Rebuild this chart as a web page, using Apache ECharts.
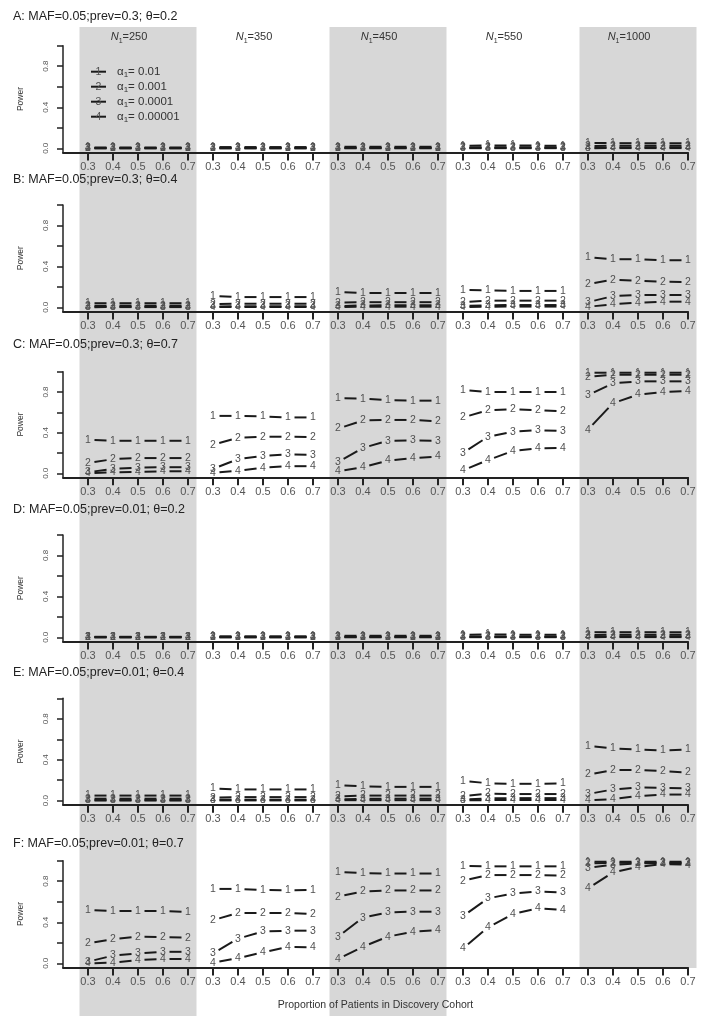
<!DOCTYPE html>
<html><head><meta charset="utf-8">
<script src="https://cdn.jsdelivr.net/npm/echarts@6/dist/echarts.min.js"></script>
<style>html,body{margin:0;padding:0;background:#fff}#c{width:711px;height:1016px}</style>
</head><body><div id="c"></div>
<script>
// ---------- data ----------
const sampleSizes = ['250', '350', '450', '550', '1000'];
const proportions = ['0.3', '0.4', '0.5', '0.6', '0.7'];
const alphaLevels = ['0.01', '0.001', '0.0001', '0.00001'];
const panelTitles = [
  'A: MAF=0.05;prev=0.3; θ=0.2',
  'B: MAF=0.05;prev=0.3; θ=0.4',
  'C: MAF=0.05;prev=0.3; θ=0.7',
  'D: MAF=0.05;prev=0.01; θ=0.2',
  'E: MAF=0.05;prev=0.01; θ=0.4',
  'F: MAF=0.05;prev=0.01; θ=0.7'
];
const yTickValues = [0, 0.2, 0.4, 0.6, 0.8, 1.0];
const yLabelValues = [0, 0.4, 0.8];

// power values: 4 alpha levels x (5 sample sizes x 5 proportions)
const panelA = [
  [0.008,0.008,0.008,0.008,0.008, 0.012,0.012,0.012,0.012,0.012, 0.015,0.015,0.015,0.015,0.015, 0.025,0.028,0.027,0.026,0.025, 0.052,0.05,0.05,0.049,0.048],
  [0.003,0.003,0.003,0.003,0.003, 0.004,0.004,0.004,0.004,0.004, 0.006,0.006,0.006,0.006,0.006, 0.008,0.01,0.01,0.01,0.01, 0.022,0.025,0.025,0.025,0.024],
  [0.001,0.001,0.001,0.001,0.001, 0.001,0.001,0.001,0.001,0.001, 0.002,0.002,0.002,0.002,0.002, 0.002,0.003,0.003,0.003,0.003, 0.006,0.008,0.009,0.009,0.009],
  [0,0,0,0,0, 0,0,0,0,0, 0.001,0.001,0.001,0.001,0.001, 0.001,0.001,0.001,0.001,0.001, 0.001,0.002,0.002,0.002,0.002]
];
const panelB = [
  [0.04,0.04,0.04,0.04,0.04, 0.11,0.10,0.10,0.10,0.10, 0.15,0.14,0.14,0.14,0.14, 0.17,0.165,0.16,0.16,0.16, 0.49,0.47,0.47,0.46,0.46],
  [0.015,0.016,0.016,0.016,0.016, 0.03,0.035,0.035,0.035,0.035, 0.045,0.05,0.05,0.05,0.05, 0.05,0.065,0.065,0.065,0.065, 0.225,0.27,0.26,0.25,0.245],
  [0.004,0.005,0.005,0.005,0.005, 0.008,0.01,0.01,0.01,0.01, 0.012,0.018,0.02,0.02,0.02, 0.012,0.02,0.022,0.022,0.022, 0.05,0.11,0.12,0.12,0.12],
  [0.001,0.002,0.002,0.002,0.002, 0.002,0.003,0.003,0.003,0.003, 0.003,0.005,0.006,0.006,0.006, 0.003,0.006,0.007,0.007,0.007, 0.005,0.03,0.045,0.055,0.055]
];
const panelC = [
  [0.33,0.32,0.32,0.32,0.32, 0.565,0.565,0.56,0.55,0.55, 0.74,0.735,0.72,0.715,0.715, 0.82,0.80,0.80,0.80,0.80, 0.99,0.99,0.99,0.99,0.99],
  [0.10,0.14,0.15,0.15,0.15, 0.28,0.35,0.36,0.36,0.355, 0.44,0.52,0.525,0.525,0.51, 0.55,0.62,0.63,0.62,0.61, 0.95,0.97,0.97,0.97,0.97],
  [0.01,0.045,0.055,0.06,0.06, 0.043,0.14,0.17,0.187,0.18, 0.11,0.25,0.32,0.325,0.32, 0.2,0.36,0.41,0.425,0.415, 0.77,0.885,0.905,0.905,0.905],
  [0.0,0.01,0.015,0.02,0.02, 0.005,0.025,0.055,0.07,0.07, 0.02,0.06,0.125,0.15,0.165, 0.03,0.13,0.22,0.245,0.25, 0.43,0.69,0.775,0.80,0.81]
];
const panelD = [
  [0.005,0.005,0.005,0.005,0.005, 0.01,0.01,0.01,0.01,0.01, 0.015,0.015,0.015,0.015,0.015, 0.025,0.027,0.026,0.025,0.025, 0.05,0.05,0.05,0.05,0.048],
  [0.002,0.002,0.002,0.002,0.002, 0.003,0.003,0.003,0.003,0.003, 0.005,0.005,0.005,0.005,0.005, 0.008,0.008,0.008,0.008,0.008, 0.022,0.025,0.025,0.025,0.025],
  [0.001,0.001,0.001,0.001,0.001, 0.001,0.001,0.001,0.001,0.001, 0.002,0.002,0.002,0.002,0.002, 0.003,0.003,0.003,0.003,0.003, 0.007,0.009,0.009,0.009,0.009],
  [0,0,0,0,0, 0,0,0,0,0, 0.001,0.001,0.001,0.001,0.001, 0.001,0.001,0.001,0.001,0.001, 0.001,0.002,0.002,0.002,0.002]
];
const panelE = [
  [0.05,0.05,0.05,0.05,0.05, 0.12,0.11,0.11,0.11,0.11, 0.15,0.14,0.135,0.135,0.135, 0.195,0.17,0.165,0.165,0.17, 0.535,0.51,0.50,0.49,0.50],
  [0.02,0.02,0.02,0.02,0.02, 0.03,0.035,0.035,0.035,0.035, 0.04,0.05,0.05,0.05,0.05, 0.045,0.07,0.065,0.065,0.065, 0.255,0.30,0.30,0.29,0.275],
  [0.006,0.006,0.006,0.006,0.006, 0.01,0.01,0.01,0.01,0.01, 0.012,0.018,0.02,0.02,0.02, 0.01,0.022,0.025,0.025,0.025, 0.065,0.11,0.13,0.125,0.12],
  [0.002,0.002,0.002,0.002,0.002, 0.003,0.003,0.003,0.003,0.003, 0.005,0.005,0.005,0.005,0.005, 0.004,0.006,0.007,0.007,0.007, 0.003,0.016,0.045,0.06,0.06]
];
const panelF = [
  [0.52,0.51,0.51,0.51,0.50, 0.725,0.725,0.715,0.71,0.715, 0.89,0.88,0.875,0.875,0.875, 0.95,0.945,0.945,0.945,0.945, 0.99,0.99,0.99,0.99,0.99],
  [0.195,0.235,0.26,0.255,0.25, 0.42,0.49,0.49,0.49,0.48, 0.65,0.70,0.71,0.71,0.71, 0.805,0.86,0.86,0.86,0.855, 0.975,0.98,0.98,0.98,0.98],
  [0.016,0.075,0.097,0.112,0.112, 0.097,0.24,0.31,0.318,0.318, 0.26,0.445,0.497,0.503,0.503, 0.46,0.633,0.68,0.70,0.69, 0.93,0.96,0.975,0.975,0.975],
  [0.0,0.006,0.032,0.042,0.042, 0.005,0.05,0.107,0.16,0.156, 0.042,0.162,0.26,0.308,0.325, 0.146,0.35,0.48,0.536,0.52, 0.73,0.886,0.94,0.967,0.96]
];
const panels = [panelA, panelB, panelC, panelD, panelE, panelF];

// ---------- layout ----------
const FONT = '"Liberation Sans", Arial, Helvetica, sans-serif';
const LEFT = 63, UNIT = 25;                 // x: index -1 at LEFT, 25px per step
const NX = sampleSizes.length * proportions.length;
const rowTop = [45.7, 205, 371.7, 535, 698.3, 860.7];   // pixel of power = 1
const rowZero = [148.3, 307.3, 473.3, 637.3, 800.7, 963.3]; // pixel of power = 0
const titleY = [16.7, 179.3, 345, 509.3, 672.7, 843.3];
const BAND_GRAY = '#d7d7d7';
const LINE_COL = '#1a1a1a';
const NUM_COL = '#505050';

const xIdx = [];
sampleSizes.forEach((_, g) => proportions.forEach((_, k) => xIdx.push(g * proportions.length + k)));
const px = idx => LEFT + (idx + 1) * UNIT;

const grids = [], xAxes = [], yAxes = [], series = [];
panels.forEach((panel, r) => {
  const h = rowZero[r] - rowTop[r];
  grids.push({ left: LEFT, top: rowTop[r], width: UNIT * NX, height: h * 1.04 });
  const last = r === panels.length - 1;
  xAxes.push({
    gridIndex: r, type: 'value', min: -1, max: NX - 1, interval: 1,
    axisLine: { show: true, onZero: false, lineStyle: { color: '#222', width: 2 } },
    axisTick: { show: true, customValues: xIdx, length: 8, lineStyle: { color: '#222', width: 2 } },
    axisLabel: { show: true, customValues: xIdx, formatter: v => proportions[((v % 5) + 5) % 5],
      fontSize: 11, color: '#555', margin: 9, fontFamily: FONT },
    splitLine: { show: false },
    name: last ? 'Proportion of Patients in Discovery Cohort' : '',
    nameLocation: 'middle', nameGap: 32,
    nameTextStyle: { fontSize: 10.5, color: '#333', fontFamily: FONT }
  });
  yAxes.push({
    gridIndex: r, type: 'value', min: -0.04, max: 1,
    axisLine: { show: true, onZero: false, lineStyle: { color: '#222', width: 1.5 } },
    axisTick: { show: true, customValues: yTickValues, length: 6, lineStyle: { color: '#222', width: 1.5 } },
    axisLabel: { show: true, customValues: yLabelValues, rotate: 90, formatter: v => v.toFixed(1),
      fontSize: 8, color: '#555', margin: 13, fontFamily: FONT },
    splitLine: { show: false },
    name: 'Power', nameLocation: 'middle', nameGap: 38,
    nameTextStyle: { fontSize: 8.5, color: '#333', fontFamily: FONT }
  });
  panel.forEach((values, a) => {
    series.push({
      type: 'custom', xAxisIndex: r, yAxisIndex: r, z: 5, silent: true, clip: false,
      data: values.map((v, i) => [i, v]),
      encode: { x: 0, y: 1 },
      renderItem: function (params, api) {
        const i = api.value(0), v = api.value(1);
        const p = api.coord([i, v]);
        const children = [{
          type: 'text', z2: 2,
          style: { text: String(a + 1), x: p[0], y: p[1], align: 'center', verticalAlign: 'middle',
            fill: NUM_COL, font: '10.5px ' + FONT }
        }];
        if (i % proportions.length !== proportions.length - 1) {
          const q = api.coord([i + 1, values[i + 1]]);
          const dx = q[0] - p[0], dy = q[1] - p[1], L = Math.hypot(dx, dy), gap = 6.5;
          if (L > 2 * gap) {
            children.push({
              type: 'line', z2: 1,
              shape: { x1: p[0] + dx * gap / L, y1: p[1] + dy * gap / L, x2: q[0] - dx * gap / L, y2: q[1] - dy * gap / L },
              style: { stroke: LINE_COL, lineWidth: 2 }
            });
          }
        }
        return { type: 'group', children };
      }
    });
  });
});

// ---------- graphic decorations ----------
const graphics = [];
// shaded bands for alternate sample sizes
sampleSizes.forEach((s, g) => {
  if (g % 2 !== 0) return;
  const c = px(g * 5 + 2);
  const bottom = g === sampleSizes.length - 1 ? 968 : 1016;
  graphics.push({ type: 'rect', z: -10, silent: true,
    shape: { x: c - 58.5, y: 27, width: 117, height: bottom - 27 }, style: { fill: BAND_GRAY } });
});
// sample-size headers
sampleSizes.forEach((s, g) => {
  const c = px(g * 5 + 2) - 9;
  graphics.push({ type: 'text', z: 10, silent: true,
    style: { text: '{i|N}{s|1}{n|=' + s + '}', x: c, y: 37.3, align: 'center', verticalAlign: 'middle',
      rich: {
        i: { fontSize: 11, fontFamily: FONT, fontStyle: 'italic', fill: '#333', lineHeight: 14 },
        s: { fontSize: 7, fontFamily: FONT, fill: '#333', verticalAlign: 'bottom', lineHeight: 10 },
        n: { fontSize: 11, fontFamily: FONT, fill: '#333', lineHeight: 14 }
      } } });
});
// panel titles
panelTitles.forEach((t, r) => {
  graphics.push({ type: 'text', z: 10, silent: true,
    style: { text: t, x: 13, y: titleY[r], verticalAlign: 'middle', fill: '#222', font: '12.5px ' + FONT } });
});
// legend (panel A)
alphaLevels.forEach((al, i) => {
  const ly = 71.7 + 15 * i;
  graphics.push({ type: 'line', z: 10, silent: true, shape: { x1: 91, y1: ly, x2: 106, y2: ly },
    style: { stroke: LINE_COL, lineWidth: 2 } });
  graphics.push({ type: 'text', z: 11, silent: true,
    style: { text: String(i + 1), x: 98.5, y: ly, align: 'center', verticalAlign: 'middle', fill: NUM_COL, font: '10.5px ' + FONT } });
  graphics.push({ type: 'text', z: 11, silent: true,
    style: { text: '{a|α}{s|1}{a|= ' + al + '}', x: 117, y: ly, verticalAlign: 'middle',
      rich: {
        a: { fontSize: 11.5, fontFamily: FONT, fill: '#333', lineHeight: 14 },
        s: { fontSize: 8, fontFamily: FONT, fill: '#333', verticalAlign: 'bottom', lineHeight: 11 }
      } } });
});

const chart = echarts.init(document.getElementById('c'), null, { renderer: 'canvas' });
chart.setOption({
  backgroundColor: '#ffffff',
  animation: false,
  grid: grids, xAxis: xAxes, yAxis: yAxes, series,
  graphic: { elements: graphics }
});
</script></body></html>
